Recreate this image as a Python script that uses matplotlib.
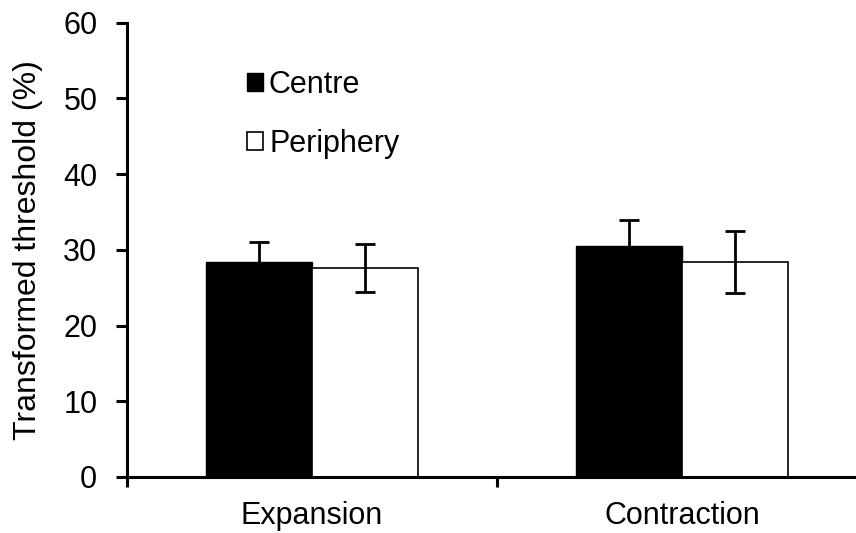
import matplotlib
matplotlib.use("Agg")
import matplotlib.pyplot as plt
import numpy as np
from matplotlib.patches import Patch

plt.rcParams['font.family'] = ['Liberation Sans', 'DejaVu Sans']

categories = ["Expansion", "Contraction"]
centre = [28.4, 30.5]
centre_err = [2.7, 3.4]
periphery = [27.6, 28.4]
periphery_err = [3.2, 4.1]
series_labels = ["Centre", "Periphery"]
yticks = [0, 10, 20, 30, 40, 50, 60]

FS = 22

fig = plt.figure(figsize=(8.56, 5.33), dpi=100)
ax = fig.add_axes([126.5/856, 1-477/533, (867.5-126.5)/856, (477-22.7)/533])

x = np.arange(len(categories))
w = 0.286
ax.bar(x - w/2, centre, w, color='black', edgecolor='black', linewidth=1, zorder=2)
ax.bar(x + w/2, periphery, w, color='white', edgecolor='black', linewidth=1.2, zorder=2)
ax.errorbar(x - w/2, centre, yerr=centre_err, fmt='none', ecolor='black',
            elinewidth=2, capsize=7, capthick=2, zorder=3)
ax.errorbar(x + w/2, periphery, yerr=periphery_err, fmt='none', ecolor='black',
            elinewidth=2, capsize=7, capthick=2, zorder=3)

ax.set_xlim(-0.5, 1.5)
ax.set_ylim(0, 60)
ax.set_yticks(yticks)
ax.set_xticks([-0.5, 0.5, 1.5])
ax.set_xticklabels([])
ax.set_xticks(x, minor=True)
ax.set_xticklabels(categories, minor=True, fontsize=FS)
ax.tick_params(axis='x', which='minor', length=0, pad=17)
ax.tick_params(axis='x', which='major', length=7, width=2.2, direction='out')
ax.tick_params(axis='y', length=8, width=2.2, direction='out', labelsize=FS, pad=13)
for s in ['top', 'right']:
    ax.spines[s].set_visible(False)
for s in ['left', 'bottom']:
    ax.spines[s].set_linewidth(2.2)
ax.set_ylabel("Transformed threshold (%)", fontsize=23)
ax.yaxis.set_label_coords(-0.113, 0.5)

handles = [Patch(facecolor='black', edgecolor='black'),
           Patch(facecolor='white', edgecolor='black', linewidth=1.2)]
ax.legend(handles, series_labels, loc='upper left', bbox_to_anchor=(247/856, 1-70/533),
          bbox_transform=fig.transFigure, frameon=False, fontsize=FS,
          handlelength=0.52, handleheight=0.52, handletextpad=0.2, labelspacing=0.95,
          borderpad=0, borderaxespad=0)

fig.savefig("out.png", dpi=100)
